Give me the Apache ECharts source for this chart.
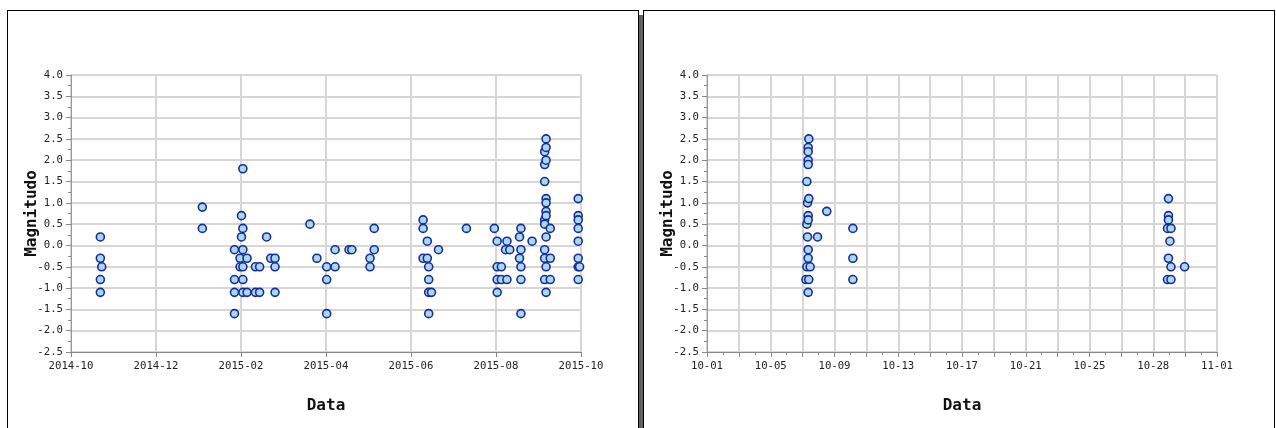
<!DOCTYPE html>
<html>
<head>
<meta charset="utf-8">
<script src="https://cdn.jsdelivr.net/npm/echarts@6.0.0/dist/echarts.min.js"></script>
<style>
    body { margin: 0; background: #fff; width: 1276px; height: 428px; overflow: hidden; position: relative; }
    .panel { position: absolute; top: 10px; width: 630px; height: 430px; border: 1px solid #000; background: #fff; }
    #left-box { left: 7px; }
    #right-box { left: 643px; }
    #shadow { position: absolute; left: 639px; top: 15px; width: 4px; height: 420px; background: #606060; }
    .chart { position: absolute; left: 0; top: 0; width: 630px; height: 417px; }
</style>
</head>
<body>
<div id="shadow"></div>
<div class="panel" id="left-box"><div class="chart" id="view-left"></div></div>
<div class="panel" id="right-box"><div class="chart" id="view-right"></div></div>
<script>
// left panel: a year of events, [date, magnitudes on that date]
var leftStart = '2014-10-01';
var leftEnd = '2015-10-01';
var leftTicks = ['2014-10', '2014-12', '2015-02', '2015-04', '2015-06', '2015-08', '2015-10'];
var leftData = [
    ['2014-10-22', [0.2, -0.3, -0.8, -1.1]],
    ['2014-10-23', [-0.5]],
    ['2015-01-03', [0.9, 0.4]],
    ['2015-01-26', [-0.1, -0.8, -1.1, -1.6]],
    ['2015-01-30', [-0.3, -0.5]],
    ['2015-01-31', [0.7, 0.2]],
    ['2015-02-01', [1.8, 0.4, -0.1, -0.5, -0.8, -1.1]],
    ['2015-02-04', [-0.3, -1.1]],
    ['2015-02-10', [-0.5, -1.1]],
    ['2015-02-13', [-0.5, -1.1]],
    ['2015-02-18', [0.2]],
    ['2015-02-21', [-0.3]],
    ['2015-02-24', [-0.3, -0.5, -1.1]],
    ['2015-03-21', [0.5]],
    ['2015-03-26', [-0.3]],
    ['2015-04-02', [-0.5, -0.8, -1.6]],
    ['2015-04-08', [-0.1, -0.5]],
    ['2015-04-18', [-0.1]],
    ['2015-04-20', [-0.1]],
    ['2015-05-03', [-0.3, -0.5]],
    ['2015-05-06', [0.4, -0.1]],
    ['2015-06-10', [0.6, 0.4, -0.3]],
    ['2015-06-13', [0.1, -0.3]],
    ['2015-06-14', [-0.5, -0.8, -1.1, -1.6]],
    ['2015-06-16', [-1.1]],
    ['2015-06-21', [-0.1]],
    ['2015-07-11', [0.4]],
    ['2015-07-31', [0.4]],
    ['2015-08-02', [0.1, -0.5, -0.8, -1.1]],
    ['2015-08-05', [-0.5, -0.8]],
    ['2015-08-08', [-0.1]],
    ['2015-08-09', [0.1, -0.8]],
    ['2015-08-11', [-0.1]],
    ['2015-08-18', [0.2, -0.3]],
    ['2015-08-19', [0.4, -0.1, -0.5, -0.8, -1.6]],
    ['2015-08-27', [0.1]],
    ['2015-09-05', [2.2, 1.9, 1.5, 0.6, 0.5, -0.1, -0.3, -0.8]],
    ['2015-09-06', [2.5, 2.3, 2.0, 1.1, 1.0, 0.8, 0.7, 0.2, -0.5, -1.1]],
    ['2015-09-09', [0.4, -0.3, -0.8]],
    ['2015-09-29', [1.1, 0.7, 0.6, 0.4, 0.1, -0.3, -0.5, -0.8]],
    ['2015-09-30', [-0.5]]
];

// right panel: one month
var rightStart = '2015-10-01';
var rightEnd = '2015-11-01';
var rightTicks = ['10-01', '10-05', '10-09', '10-13', '10-17', '10-21', '10-25', '10-28', '11-01'];
var rightData = [
    ['2015-10-07T00:15', [-0.8]],
    ['2015-10-07T01:40', [1.5, 0.5, -0.5]],
    ['2015-10-07T02:40', [1.0, 0.2]],
    ['2015-10-07T03:35', [2.3, 2.2, 2.0, 1.9, 0.7, 0.6, -0.1, -0.3, -1.1]],
    ['2015-10-07T04:30', [2.5, 1.1, -0.8]],
    ['2015-10-07T06:30', [-0.5]],
    ['2015-10-07T17:15', [0.2]],
    ['2015-10-08T06:45', [0.8]],
    ['2015-10-09T20:50', [0.4, -0.3, -0.8]],
    ['2015-10-28T23:45', [0.4, -0.8]],
    ['2015-10-29T01:10', [1.1, 0.7, 0.6, -0.3]],
    ['2015-10-29T03:20', [0.1]],
    ['2015-10-29T04:50', [0.4, -0.5, -0.8]],
    ['2015-10-30T00:45', [-0.5]]
];

var yMin = -2.5;
var yMax = 4;
var yStep = 0.5;

function toMs(s) {
    return Date.parse(s.length === 10 ? s + 'T00:00:00Z' : s + ':00Z');
}

function buildOption(data, start, end, ticks, step) {
    var t0 = toMs(start);
    var t1 = toMs(end);
    var n = ticks.length - 1;
    var points = [];
    data.forEach(function(row) {
        var x = (toMs(row[0]) - t0) / (t1 - t0) * n;
        row[1].forEach(function(m) {
            points.push([x, m]);
        });
    });
    var labelStyle = {
        color: '#222',
        fontFamily: 'DejaVu Sans Mono',
        fontSize: 10.67
    };
    var nameStyle = {
        color: '#111',
        fontFamily: 'DejaVu Sans Mono',
        fontWeight: 'bold',
        fontSize: 16
    };
    return {
        animation: false,
        grid: { left: 63, top: 64, width: 510, height: 277, outerBoundsMode: 'none' },
        xAxis: {
            type: 'value',
            min: 0,
            max: n,
            interval: step,
            name: 'Data',
            nameLocation: 'middle',
            nameGap: 46,
            nameMoveOverlap: false,
            nameTextStyle: nameStyle,
            axisLine: { show: true, onZero: false, lineStyle: { color: '#888' } },
            axisTick: { show: true, length: 5, lineStyle: { color: '#888' } },
            minorTick: { show: step < 1, splitNumber: 2, length: 3, lineStyle: { color: '#888' } },
            splitLine: { show: true, lineStyle: { color: '#d6d6d6', width: 2 } },
            axisLabel: Object.assign({
                margin: 9,
                showMinLabel: true,
                showMaxLabel: true,
                formatter: function(v) {
                    var i = Math.round(v);
                    return Math.abs(v - i) < 1e-6 ? ticks[i] : '';
                }
            }, labelStyle)
        },
        yAxis: {
            type: 'value',
            min: yMin,
            max: yMax,
            interval: yStep,
            name: 'Magnitudo',
            nameLocation: 'middle',
            nameGap: 31,
            nameMoveOverlap: false,
            nameTextStyle: nameStyle,
            axisLine: { show: true, onZero: false, lineStyle: { color: '#999' } },
            axisTick: { show: true, length: 5, lineStyle: { color: '#888' } },
            minorTick: { show: true, splitNumber: 2, length: 3, lineStyle: { color: '#888' } },
            splitLine: { show: true, lineStyle: { color: '#d6d6d6', width: 2 } },
            axisLabel: Object.assign({
                margin: 8,
                formatter: function(v) { return v.toFixed(1); }
            }, labelStyle)
        },
        series: [{
            type: 'scatter',
            data: points,
            symbol: 'circle',
            symbolSize: 8,
            silent: true,
            itemStyle: {
                color: '#a6d8ee',
                borderColor: '#1b2b96',
                borderWidth: 1.6,
                opacity: 1
            }
        }]
    };
}

var left = echarts.init(document.getElementById('view-left'));
left.setOption(buildOption(leftData, leftStart, leftEnd, leftTicks, 1));

var right = echarts.init(document.getElementById('view-right'));
right.setOption(buildOption(rightData, rightStart, rightEnd, rightTicks, 0.5));
</script>
</body>
</html>
